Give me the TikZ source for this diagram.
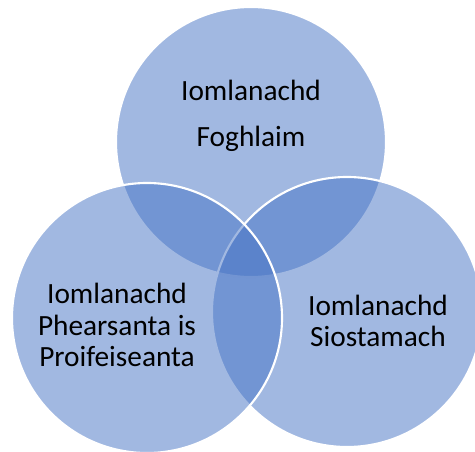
\documentclass[tikz,border=0pt]{standalone}
\usepackage{fontspec}
\setmainfont{Carlito}
\definecolor{vennblue}{HTML}{4472C4}
\begin{document}
\begin{tikzpicture}[x=0.75pt,y=-0.75pt,
  venn/.style={fill=vennblue,fill opacity=0.5,draw=white,draw opacity=1,line width=1.6pt},
  vtext/.style={align=center,font=\fontsize{22}{23.6}\selectfont,text=black,inner sep=0pt}]
  \useasboundingbox (0,0) rectangle (475,452);
  % circles: top, right, left
  \draw[venn]
    (251,142) circle (135);
  \draw[venn]
    (347,312) circle (135);
  \draw[venn]
    (147,318) circle (135);
  % labels
  \node[vtext,font=\fontsize{22}{34.5}\selectfont] (foghlaim) at (251,116)
    {Iomlanachd\\Foghlaim};
  \node[vtext] (pearsanta) at (117,325)
    {Iomlanachd\\Phearsanta is\\Proifeiseanta};
  \node[vtext] (siostamach) at (378,321)
    {Iomlanachd\\Siostamach};
\end{tikzpicture}
\end{document}
